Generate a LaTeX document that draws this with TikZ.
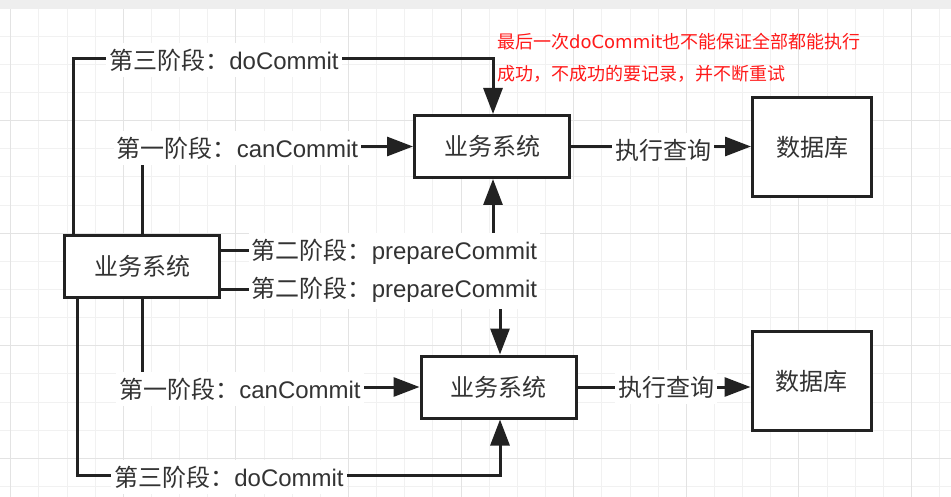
\documentclass[tikz,border=0pt]{standalone}
\usepackage{fontspec}
\setmainfont{Liberation Sans}
\newfontfamily\cjk{Noto Sans CJK SC}
\newfontfamily\dvs{DejaVu Sans}
\usetikzlibrary{arrows.meta}
\definecolor{gridminor}{HTML}{F1F1F1}
\definecolor{gridmajor}{HTML}{E3E3E3}
\definecolor{topband}{HTML}{EEEEEE}
\definecolor{ink}{HTML}{222222}
\definecolor{txt}{HTML}{333333}
\definecolor{notered}{HTML}{FF1A1A}
\begin{document}
\begin{tikzpicture}[x=1pt,y=-1pt,
  box/.style={draw=ink, line width=3pt, fill=white, minimum width=155pt, minimum height=62pt, inner sep=0pt, font=\cjk\fontsize{24}{28}\selectfont, text=txt},
  dbbox/.style={box, minimum width=119pt, minimum height=99pt},
  conn/.style={draw=ink, line width=3pt},
  arr/.style={conn, -{Triangle[length=26pt,width=19pt]}},
  lbl/.style={fill=white, inner xsep=3pt, inner ysep=6pt, text=txt, font=\fontsize{24}{28}\selectfont},
  notetext/.style={text=notered, font=\cjk\fontsize{18}{22}\selectfont, anchor=west, inner sep=0pt}]
\useasboundingbox (0,0) rectangle (951,497);
\fill[white] (0,0) rectangle (951,497);
% grid
\foreach \k in {0,...,33} {\draw[gridminor, line width=1pt] (10.7+28.15*\k,9) -- (10.7+28.15*\k,497);}
\foreach \k in {1,...,17} {\draw[gridminor, line width=1pt] (0,8+28.15*\k) -- (951,8+28.15*\k);}
\foreach \k in {0,4,...,32} {\draw[gridmajor, line width=1pt] (10.7+28.15*\k,9) -- (10.7+28.15*\k,497);}
\foreach \k in {4,8,12,16} {\draw[gridmajor, line width=1pt] (0,8+28.15*\k) -- (951,8+28.15*\k);}
\fill[topband] (0,0) rectangle (951,9.5);

% boxes
\node[box] (L) at (142,266.5) {业务系统};
\node[box] (T) at (492,146.5) {业务系统};
\node[box] (B) at (498.5,387) {业务系统};
\node[dbbox] (TD) at (812,147.5) {数据库};
\node[dbbox] (BD) at (811.5,381) {数据库};

% coordinates
\coordinate (d1) at (73,59);
\coordinate (d2) at (493,59);
\coordinate (p1) at (493,251);
\coordinate (p2) at (500,290);
\coordinate (e1) at (77,475);
\coordinate (e2) at (500,475);

% connectors
\draw[arr] (L.north -| d1) -- (d1) -- (d2) -- (T.north -| d2);
\draw[arr] (L.north) -- (L.north |- T.west) -- (T.west);
\draw[arr] (L.east |- p1) -- (p1) -- (T.south -| p1);
\draw[arr] (L.east |- p2) -- (p2) -- (B.north -| p2);
\draw[arr] (L.south) -- (L.south |- B.west) -- (B.west);
\draw[arr] (L.south -| e1) -- (e1) -- (e2) -- (B.south -| e2);
\draw[arr] (T.east) -- (T.east -| TD.west);
\draw[arr] (B.east) -- (B.east -| BD.west);

% labels
\node[lbl] (l1) at (224,60) {{\cjk 第三阶段：}doCommit};
\node[lbl] (l2) at (237.5,148) {{\cjk 第一阶段：}canCommit};
\node[lbl] (l3) at (394.5,252) {{\cjk 第二阶段：}prepareCommit};
\node[lbl] (l4) at (394.5,290) {{\cjk 第二阶段：}prepareCommit};
\node[lbl] (l5) at (240,389) {{\cjk 第一阶段：}canCommit};
\node[lbl] (l6) at (229,477) {{\cjk 第三阶段：}doCommit};
\node[lbl, font=\cjk\fontsize{24}{28}\selectfont] (x1) at (663,150) {执行查询};
\node[lbl, font=\cjk\fontsize{24}{28}\selectfont] (x2) at (666,387) {执行查询};

% note
\node[notetext] (n1) at (497,42) {最后一次{\dvs doCommit}也不能保证全部都能执行};
\node[notetext] (n2) at (497,74) {成功，不成功的要记录，并不断重试};
\end{tikzpicture}
\end{document}
